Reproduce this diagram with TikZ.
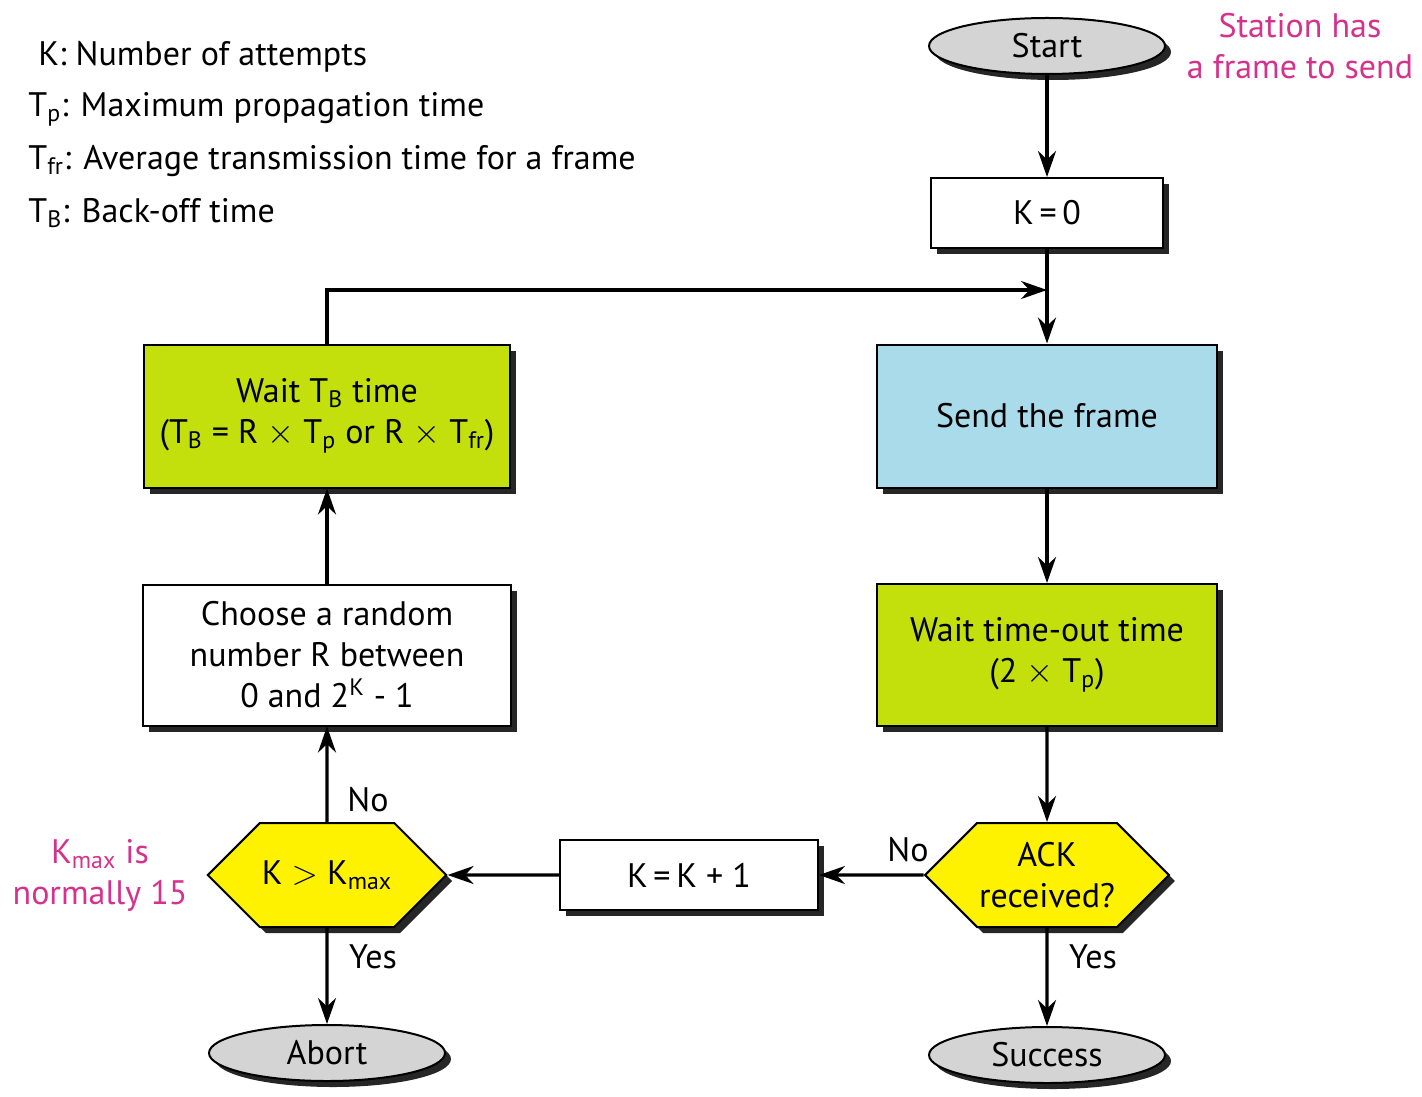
\documentclass[tikz,border=0pt]{standalone}
\usepackage{fontspec}
\setmainfont{PT Sans}
\usepackage{tikz}
\usetikzlibrary{arrows.meta,shapes.geometric,shapes.symbols,shadows}

\definecolor{limefill}{RGB}{196,224,12}
\definecolor{sendblue}{RGB}{170,219,234}
\definecolor{askyellow}{RGB}{255,242,0}
\definecolor{termgray}{RGB}{212,212,212}
\definecolor{notepink}{RGB}{212,50,140}

\begin{document}
\begin{tikzpicture}[
    x=0.5pt, y=-0.5pt,
    font=\fontsize{17}{20.5}\selectfont,
    boxshadow/.style={drop shadow={shadow xshift=3pt, shadow yshift=-3pt, fill=black!85, opacity=1}},
    term/.style={ellipse, draw=black, line width=1pt, fill=termgray, minimum width=118pt, minimum height=28pt, inner sep=0pt, boxshadow},
    proc/.style={rectangle, draw=black, line width=1pt, fill=white, align=center, inner sep=2pt, boxshadow},
    decide/.style={signal, signal to=east and west, signal pointer angle=90, draw=black, line width=1pt, fill=askyellow, minimum width=117pt, minimum height=52pt, inner sep=1pt, align=center, boxshadow},
    remark/.style={text=notepink, align=center},
    lbl/.style={inner sep=1pt},
    legend/.style={anchor=west, inner sep=0pt},
    arr/.style={-{Stealth[length=13pt, width=9pt]}, line width=1.6pt},
  ]
  \useasboundingbox (0,0) rectangle (1422,1096);
  \node[legend] (legk) at (38,57) {K: Number of attempts};
  \node[legend] (legp) at (28,109) {T\textsubscript{p}: Maximum propagation time};
  \node[legend] (legfr) at (28,161) {T\textsubscript{fr}: Average transmission time for a frame};
  \node[legend] (legb) at (28,213) {T\textsubscript{B}: Back-off time};
  \node[term] (start) at (1047,46) {Start};
  \node[remark] (station) at (1300,46) {Station has\\a frame to send};
  \node[proc, minimum width=116pt, minimum height=35pt] (k0) at (1047,213) {K\,=\,0};
  \coordinate (join) at (1047,290);
  \node[proc, fill=sendblue, minimum width=170pt, minimum height=71.5pt] (send) at (1047,416) {Send the frame};
  \node[proc, fill=limefill, minimum width=170pt, minimum height=71pt] (timeout) at (1047,655) {Wait time-out time\\(2 $\times$ T\textsubscript{p})};
  \node[decide] (ack) at (1047,875) {ACK\\received?};
  \node[term] (success) at (1047,1055) {Success};
  \node[proc, minimum width=129pt, minimum height=35pt] (inc) at (689,875) {K\,=\,K + 1};
  \node[decide] (kmax) at (327,875) {K $>$ K\textsubscript{max}};
  \node[remark] (kmaxnote) at (100,875) {K\textsubscript{max} is\\normally 15};
  \node[term] (abort) at (327,1053) {Abort};
  \node[proc, minimum width=184pt, minimum height=70.5pt] (choose) at (327,655) {Choose a random\\number R between\\0 and 2\textsuperscript{K} - 1};
  \node[proc, fill=limefill, minimum width=183pt, minimum height=71.5pt] (backoff) at (327,416) {Wait T\textsubscript{B} time\\(T\textsubscript{B} = R $\times$ T\textsubscript{p} or R $\times$ T\textsubscript{fr})};
  \foreach \a/\b in {start/k0, k0/send, send/timeout, timeout/ack, ack/success, ack/inc, inc/kmax, kmax/choose, kmax/abort, choose/backoff}{
    \draw[arr] (\a) -- (\b);
  }
  \draw[arr] (backoff.north) |- (join);
  \node[lbl] (nokmax) at (368,800) {No};
  \node[lbl] (yeskmax) at (373,957) {Yes};
  \node[lbl] (noack) at (908,850) {No};
  \node[lbl] (yesack) at (1093,957) {Yes};
\end{tikzpicture}
\end{document}
